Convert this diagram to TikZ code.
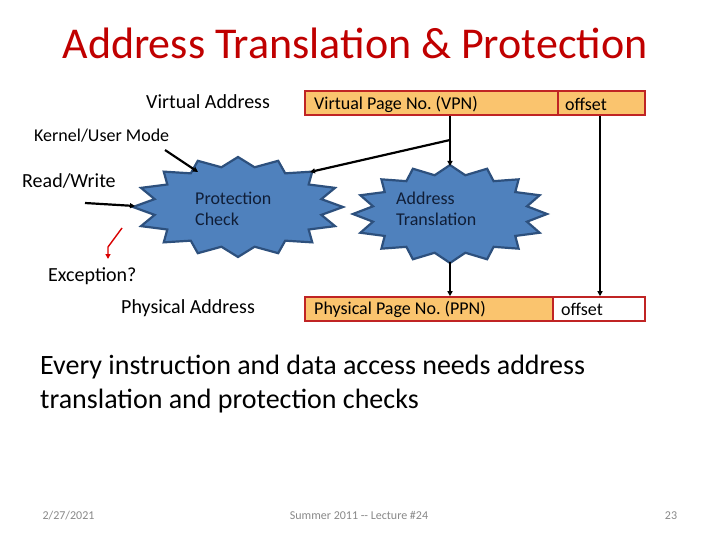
\documentclass[tikz,border=0pt]{standalone}
\usepackage{fontspec}
\setmainfont{Carlito}
\usetikzlibrary{arrows.meta,calc}
\definecolor{titlered}{RGB}{192,0,0}
\definecolor{boxfill}{RGB}{250,196,110}
\definecolor{boxline}{RGB}{192,36,36}
\definecolor{burstfill}{RGB}{79,129,189}
\definecolor{burstline}{RGB}{45,80,125}
\definecolor{bursttext}{RGB}{16,30,55}
\definecolor{footgray}{RGB}{137,137,137}
\frenchspacing
\tikzset{
  lbl/.style={anchor=west,inner sep=0pt,font=\fontsize{20}{24}\selectfont},
  fieldbox/.style={draw=boxline,line width=1.6pt,minimum height=24pt,inner sep=0pt,anchor=center},
  fieldtxt/.style={anchor=west,inner sep=0pt,font=\fontsize{18}{22}\selectfont},
  burst/.style={fill=burstfill,draw=burstline,line width=2.2pt,line join=miter},
  bursttxt/.style={align=left,inner sep=0pt,text=bursttext,font=\fontsize{18}{21}\selectfont},
  conn/.style={line width=2.2pt,-{Triangle[length=5pt,width=5pt]}},
  plainconn/.style={line width=2.2pt},
  redconn/.style={draw=red!85!black,line width=1.4pt,-{Triangle[length=5pt,width=5pt]}},
  foot/.style={inner sep=0pt,anchor=base,text=footgray,font=\fontsize{12}{14}\selectfont}
}
\begin{document}
\begin{tikzpicture}[x=1pt,y=-1pt]
\useasboundingbox[fill=white] (0,0) rectangle (720,540);
% title
\node[text=titlered,font=\fontsize{44}{50}\selectfont,inner sep=0pt] (title) at (355,43) {Address Translation \& Protection};
% virtual address
\node[lbl] (va) at (146,102) {Virtual Address};
\node[fieldbox,fill=boxfill,minimum width=253pt] (vpn) at (431.5,103) {};
\node[fieldbox,fill=boxfill,minimum width=87pt] (voff) at (601.5,103) {};
\node[fieldtxt] (vpnt) at (314,104) {Virtual Page No. (VPN)};
\node[fieldtxt] (vofft) at (565,104) {offset};
% left labels
\node[lbl,font=\fontsize{18}{22}\selectfont] (kum) at (34,136) {Kernel/User Mode};
\node[lbl] (rw) at (22,181) {Read/Write};
\node[lbl] (exc) at (48,276) {Exception?};
\node[lbl] (pa) at (121,308) {Physical Address};
% bursts
\coordinate (pcc) at (238,207);
\coordinate (atc) at (450,214);
\path[burst] ($(pcc)+(0:105 and 50)$)
  \foreach \a in {0,22.5,...,337.5} { -- ($(pcc)+(\a:105 and 50)$) -- ($(pcc)+(\a+11.25:85 and 40.5)$) } -- cycle;
\path[burst] ($(atc)+(0:97 and 49)$)
  \foreach \a in {0,22.5,...,337.5} { -- ($(atc)+(\a:97 and 49)$) -- ($(atc)+(\a+11.25:78.5 and 39.5)$) } -- cycle;
\node[bursttxt,anchor=west] (pc) at (195,209) {Protection\\Check};
\node[bursttxt,anchor=west] (at) at (396,209) {Address\\Translation};
% physical address boxes
\node[fieldbox,fill=boxfill,minimum width=248pt] (ppn) at (429,309) {};
\node[fieldbox,fill=white,minimum width=92pt] (poff) at (599,309) {};
\node[fieldtxt] (ppnt) at (314,309) {Physical Page No. (PPN)};
\node[fieldtxt] (pofft) at (561,309) {offset};
% connector points
\coordinate (atn) at ($(atc)+(0,-48)$);
\coordinate (ats) at ($(atc)+(0,48)$);
\coordinate (j) at (vpn.south -| atc);
\coordinate (jm) at (450,140);
\coordinate (pcne) at (310,172);
\coordinate (pcnw) at (198,172);
\coordinate (pcw) at ($(pcc)+(-103,-1)$);
\coordinate (kst) at (165,150);
\coordinate (rwst) at (85,203);
\coordinate (ex1) at (122,228);
\coordinate (ex2) at (108,247);
\coordinate (ex3) at (108,259);
% connectors
\draw[plainconn] (j) -- (jm);
\draw[conn] (jm) -- (atn);
\draw[conn] (jm) -- (pcne);
\draw[conn] (kst) -- (pcnw);
\draw[conn] (rwst) -- (pcw);
\draw[conn] (ats) -- (ats |- ppn.north);
\draw[conn] (voff.south -| 600,0) -- (poff.north -| 600,0);
\draw[redconn] (ex1) -- (ex2) -- (ex3);
% body text
\node[anchor=north west,align=left,inner sep=0pt,font=\fontsize{28}{33.6}\selectfont] (body) at (40,355) {Every instruction and data access needs address\\translation and protection checks};
% footer
\node[foot] (date) at (68.5,519) {2/27/2021};
\node[foot] (footer) at (359,519) {Summer 2011 {-}{-} Lecture \#24};
\node[foot] (pagenum) at (671,519) {23};
\end{tikzpicture}
\end{document}
